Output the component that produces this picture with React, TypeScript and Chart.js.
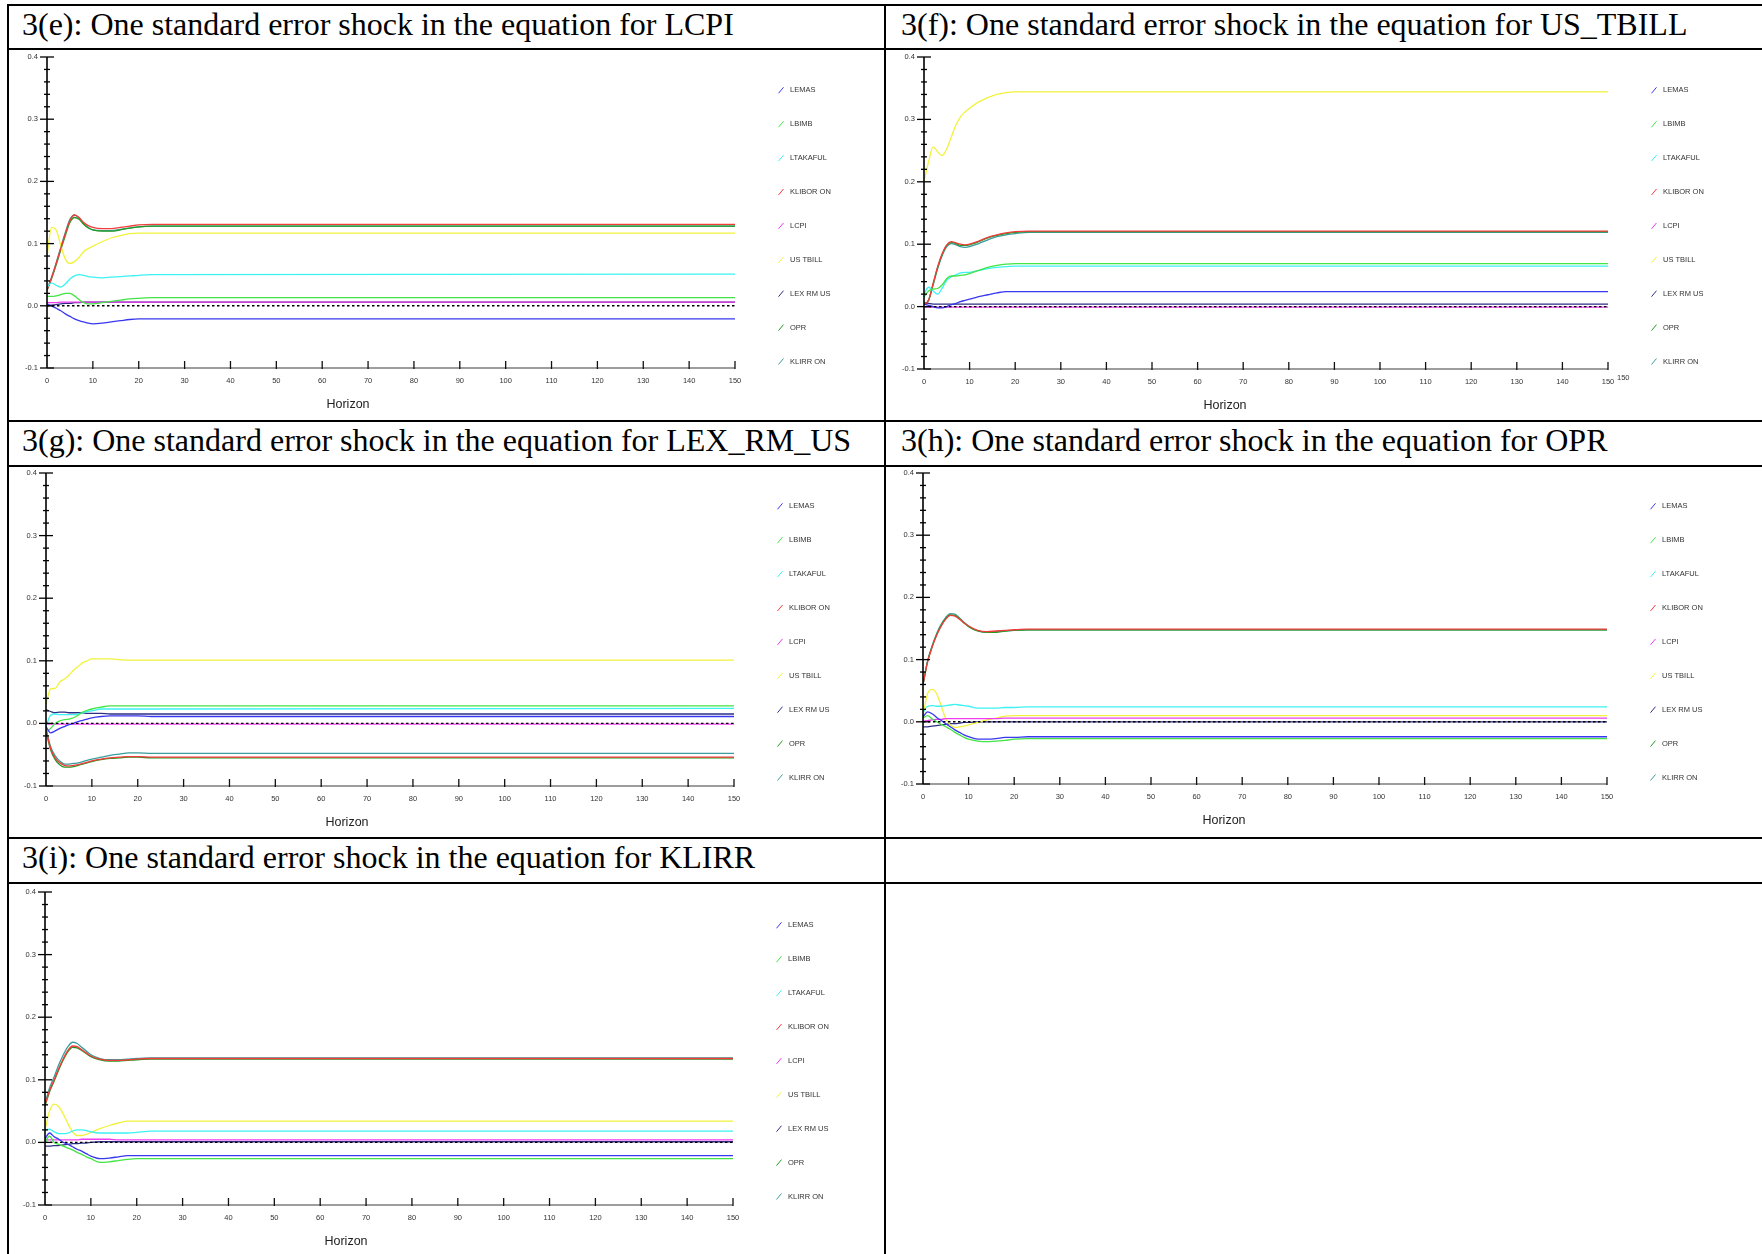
import React, { useEffect, useRef } from 'react';
import { Chart, registerables } from 'chart.js';

Chart.register(...registerables);

// ---------- shared axes / categories ----------
const horizons = [0, 1, 2, 3, 4, 5, 6, 7, 8, 9, 10, 12, 14, 16, 18, 20, 23, 150];
const seriesNames = ['LEMAS', 'LBIMB', 'LTAKAFUL', 'KLIBOR ON', 'LCPI', 'US TBILL', 'LEX RM US', 'OPR', 'KLIRR ON'];
const xTickValues = [0, 10, 20, 30, 40, 50, 60, 70, 80, 90, 100, 110, 120, 130, 140, 150];
const xTickLabels = ['0', '10', '20', '30', '40', '50', '60', '70', '80', '90', '100', '110', '120', '130', '140', '150'];
const yTickValues = [-0.1, 0.0, 0.1, 0.2, 0.3, 0.4];
const yTickLabels = ['-0.1', '0.0', '0.1', '0.2', '0.3', '0.4'];

// ---------- 3(e): shock in LCPI ----------
const eLEMAS = [0.003, 0.0, -0.004, -0.008, -0.013, -0.017, -0.021, -0.024, -0.026, -0.028, -0.029, -0.028, -0.026, -0.024, -0.022, -0.021, -0.021, -0.021];
const eLBIMB = [0.015, 0.015, 0.016, 0.018, 0.02, 0.02, 0.016, 0.01, 0.005, 0.003, 0.003, 0.005, 0.007, 0.009, 0.011, 0.012, 0.013, 0.013];
const eLTAKAFUL = [0.03, 0.037, 0.033, 0.03, 0.035, 0.043, 0.048, 0.05, 0.049, 0.047, 0.046, 0.045, 0.046, 0.047, 0.048, 0.049, 0.05, 0.051];
const eKLIBOR = [0.025, 0.045, 0.068, 0.092, 0.116, 0.137, 0.146, 0.142, 0.134, 0.129, 0.126, 0.124, 0.124, 0.126, 0.128, 0.13, 0.131, 0.131];
const eLCPI = [0.005, 0.005, 0.005, 0.006, 0.006, 0.006, 0.006, 0.006, 0.006, 0.006, 0.006, 0.006, 0.006, 0.006, 0.006, 0.006, 0.006, 0.006];
const eUSTBILL = [0.08, 0.126, 0.122, 0.097, 0.075, 0.068, 0.071, 0.078, 0.087, 0.092, 0.096, 0.103, 0.109, 0.113, 0.116, 0.117, 0.117, 0.117];
const eLEXRMUS = [0.0, 0.001, 0.002, 0.003, 0.004, 0.004, 0.005, 0.005, 0.006, 0.006, 0.006, 0.006, 0.006, 0.006, 0.006, 0.006, 0.006, 0.006];
const eOPR = [0.025, 0.044, 0.066, 0.09, 0.113, 0.134, 0.142, 0.139, 0.131, 0.125, 0.122, 0.12, 0.12, 0.122, 0.125, 0.127, 0.128, 0.128];
const eKLIRR = [0.025, 0.046, 0.069, 0.094, 0.118, 0.139, 0.146, 0.141, 0.132, 0.126, 0.122, 0.121, 0.121, 0.123, 0.125, 0.127, 0.128, 0.128];

// ---------- 3(f): shock in US_TBILL ----------
const fLEMAS = [0.004, 0.002, 0.0, -0.002, -0.002, 0.0, 0.003, 0.005, 0.008, 0.01, 0.012, 0.016, 0.019, 0.022, 0.024, 0.024, 0.024, 0.024];
const fLBIMB = [0.015, 0.025, 0.028, 0.029, 0.035, 0.045, 0.049, 0.049, 0.05, 0.051, 0.053, 0.058, 0.063, 0.066, 0.068, 0.069, 0.069, 0.069];
const fLTAKAFUL = [0.02, 0.031, 0.025, 0.02, 0.03, 0.042, 0.048, 0.051, 0.054, 0.055, 0.055, 0.058, 0.061, 0.063, 0.064, 0.065, 0.065, 0.065];
const fKLIBOR = [0.003, 0.01, 0.037, 0.064, 0.085, 0.099, 0.104, 0.102, 0.1, 0.099, 0.1, 0.105, 0.111, 0.115, 0.118, 0.12, 0.121, 0.121];
const fLCPI = [0.0, -0.001, -0.001, -0.001, -0.001, -0.001, -0.001, -0.001, -0.001, -0.001, -0.001, -0.001, -0.001, -0.001, -0.001, -0.001, -0.001, -0.001];
const fUSTBILL = [0.201, 0.232, 0.256, 0.248, 0.242, 0.253, 0.272, 0.291, 0.304, 0.312, 0.318, 0.328, 0.335, 0.34, 0.343, 0.344, 0.344, 0.344];
const fLEXRMUS = [0.006, 0.005, 0.004, 0.004, 0.004, 0.004, 0.004, 0.004, 0.004, 0.004, 0.004, 0.004, 0.004, 0.004, 0.004, 0.004, 0.004, 0.004];
const fOPR = [0.003, 0.01, 0.036, 0.063, 0.084, 0.098, 0.103, 0.101, 0.098, 0.098, 0.099, 0.104, 0.11, 0.114, 0.117, 0.119, 0.12, 0.12];
const fKLIRR = [0.003, 0.01, 0.035, 0.061, 0.082, 0.096, 0.101, 0.099, 0.096, 0.095, 0.096, 0.101, 0.107, 0.112, 0.115, 0.117, 0.119, 0.119];

// ---------- 3(g): shock in LEX_RM_US ----------
const gLEMAS = [-0.005, -0.015, -0.012, -0.008, -0.005, -0.002, 0.0, 0.003, 0.005, 0.007, 0.009, 0.011, 0.012, 0.012, 0.012, 0.012, 0.011, 0.011];
const gLBIMB = [-0.015, -0.008, 0.0, 0.004, 0.006, 0.007, 0.009, 0.013, 0.018, 0.021, 0.023, 0.026, 0.028, 0.028, 0.028, 0.028, 0.028, 0.028];
const gLTAKAFUL = [-0.005, 0.013, 0.015, 0.014, 0.014, 0.014, 0.014, 0.015, 0.017, 0.019, 0.02, 0.023, 0.023, 0.023, 0.023, 0.023, 0.023, 0.024];
const gKLIBOR = [-0.01, -0.04, -0.055, -0.063, -0.067, -0.068, -0.067, -0.066, -0.064, -0.062, -0.06, -0.057, -0.055, -0.054, -0.053, -0.053, -0.054, -0.054];
const gLCPI = [-0.001, -0.001, -0.001, -0.001, -0.001, -0.001, -0.001, -0.001, -0.001, -0.001, -0.001, -0.001, -0.001, -0.001, -0.001, -0.001, -0.001, -0.001];
const gUSTBILL = [0.031, 0.055, 0.056, 0.066, 0.071, 0.077, 0.085, 0.091, 0.097, 0.1, 0.103, 0.103, 0.103, 0.102, 0.101, 0.101, 0.101, 0.101];
const gLEXRMUS = [0.022, 0.019, 0.017, 0.018, 0.018, 0.017, 0.017, 0.017, 0.017, 0.016, 0.016, 0.016, 0.015, 0.015, 0.015, 0.015, 0.015, 0.015];
const gOPR = [-0.012, -0.042, -0.058, -0.066, -0.07, -0.07, -0.069, -0.067, -0.065, -0.063, -0.061, -0.058, -0.056, -0.055, -0.054, -0.054, -0.055, -0.055];
const gKLIRR = [-0.008, -0.037, -0.052, -0.06, -0.065, -0.065, -0.064, -0.063, -0.061, -0.059, -0.057, -0.054, -0.051, -0.049, -0.047, -0.047, -0.048, -0.048];

// ---------- 3(h): shock in OPR ----------
const hLEMAS = [0.008, 0.016, 0.013, 0.007, 0.002, -0.003, -0.008, -0.013, -0.017, -0.021, -0.024, -0.028, -0.028, -0.027, -0.025, -0.025, -0.024, -0.024];
const hLBIMB = [0.006, 0.01, 0.005, 0.0, -0.004, -0.008, -0.012, -0.017, -0.021, -0.025, -0.028, -0.031, -0.032, -0.031, -0.03, -0.028, -0.027, -0.027];
const hLTAKAFUL = [0.015, 0.025, 0.026, 0.025, 0.025, 0.026, 0.027, 0.028, 0.027, 0.026, 0.025, 0.022, 0.022, 0.022, 0.023, 0.023, 0.024, 0.024];
const hKLIBOR = [0.06, 0.096, 0.12, 0.139, 0.154, 0.165, 0.171, 0.17, 0.165, 0.159, 0.154, 0.147, 0.145, 0.146, 0.147, 0.148, 0.149, 0.149];
const hLCPI = [0.001, 0.002, 0.003, 0.004, 0.004, 0.005, 0.005, 0.005, 0.005, 0.005, 0.005, 0.005, 0.005, 0.005, 0.006, 0.006, 0.006, 0.006];
const hUSTBILL = [0.01, 0.045, 0.052, 0.045, 0.025, 0.005, -0.005, -0.009, -0.008, -0.007, -0.005, -0.001, 0.003, 0.006, 0.009, 0.01, 0.01, 0.01];
const hLEXRMUS = [-0.008, -0.008, -0.007, -0.006, -0.005, -0.004, -0.003, -0.003, -0.002, -0.001, -0.001, 0.0, 0.0, 0.0, 0.0, 0.0, 0.0, 0.0];
const hOPR = [0.06, 0.097, 0.121, 0.14, 0.155, 0.166, 0.172, 0.171, 0.166, 0.159, 0.153, 0.146, 0.144, 0.144, 0.146, 0.147, 0.148, 0.148];
const hKLIRR = [0.06, 0.098, 0.122, 0.142, 0.157, 0.168, 0.174, 0.173, 0.167, 0.16, 0.154, 0.146, 0.144, 0.145, 0.146, 0.147, 0.148, 0.148];

// ---------- 3(i): shock in KLIRR ----------
const iLEMAS = [0.006, 0.015, 0.009, 0.005, 0.0, -0.003, -0.007, -0.011, -0.014, -0.018, -0.022, -0.026, -0.025, -0.023, -0.021, -0.021, -0.021, -0.021];
const iLBIMB = [0.0, 0.01, 0.0, -0.003, -0.006, -0.009, -0.012, -0.016, -0.019, -0.023, -0.026, -0.032, -0.031, -0.029, -0.027, -0.026, -0.026, -0.026];
const iLTAKAFUL = [0.02, 0.021, 0.017, 0.014, 0.014, 0.015, 0.018, 0.02, 0.02, 0.019, 0.017, 0.015, 0.015, 0.015, 0.015, 0.016, 0.018, 0.018];
const iKLIBOR = [0.06, 0.083, 0.1, 0.118, 0.134, 0.147, 0.154, 0.153, 0.148, 0.143, 0.138, 0.133, 0.131, 0.131, 0.132, 0.133, 0.134, 0.134];
const iLCPI = [0.004, 0.004, 0.004, 0.004, 0.004, 0.004, 0.004, 0.004, 0.005, 0.005, 0.005, 0.005, 0.005, 0.004, 0.004, 0.004, 0.004, 0.004];
const iUSTBILL = [0.02, 0.05, 0.061, 0.057, 0.045, 0.03, 0.017, 0.011, 0.011, 0.013, 0.016, 0.022, 0.027, 0.031, 0.034, 0.034, 0.034, 0.034];
const iLEXRMUS = [-0.006, -0.006, -0.005, -0.005, -0.004, -0.003, -0.002, -0.002, -0.001, -0.001, 0.0, 0.001, 0.001, 0.001, 0.001, 0.001, 0.001, 0.001];
const iOPR = [0.058, 0.081, 0.098, 0.116, 0.132, 0.145, 0.152, 0.151, 0.147, 0.142, 0.137, 0.132, 0.13, 0.13, 0.131, 0.132, 0.133, 0.133];
const iKLIRR = [0.062, 0.087, 0.105, 0.124, 0.14, 0.153, 0.16, 0.158, 0.152, 0.146, 0.14, 0.134, 0.132, 0.132, 0.133, 0.134, 0.135, 0.135];

// ---------- styles ----------
const seriesColors = ['#3838f0', '#44e444', '#3cf2f2', '#f23c3c', '#ee3cee', '#f2f23c', '#2e2e86', '#229a22', '#3a9c9c'];

type PanelDef = {
  key: string;
  title: string;
  series: number[][];
  plotLeft: number;
  plotTop: number;
  plotW: number;
  plotH: number;
  extraLabel?: boolean;
};

const panels: PanelDef[] = [
  { key: 'e', title: '3(e): One standard error shock in the equation for LCPI',
    series: [eLEMAS, eLBIMB, eLTAKAFUL, eKLIBOR, eLCPI, eUSTBILL, eLEXRMUS, eOPR, eKLIRR],
    plotLeft: 47, plotTop: 57, plotW: 688, plotH: 311 },
  { key: 'f', title: '3(f): One standard error shock in the equation for US_TBILL',
    series: [fLEMAS, fLBIMB, fLTAKAFUL, fKLIBOR, fLCPI, fUSTBILL, fLEXRMUS, fOPR, fKLIRR],
    plotLeft: 924, plotTop: 57, plotW: 684, plotH: 312, extraLabel: true },
  { key: 'g', title: '3(g): One standard error shock in the equation for LEX_RM_US',
    series: [gLEMAS, gLBIMB, gLTAKAFUL, gKLIBOR, gLCPI, gUSTBILL, gLEXRMUS, gOPR, gKLIRR],
    plotLeft: 46, plotTop: 473, plotW: 688, plotH: 313 },
  { key: 'h', title: '3(h): One standard error shock in the equation for OPR',
    series: [hLEMAS, hLBIMB, hLTAKAFUL, hKLIBOR, hLCPI, hUSTBILL, hLEXRMUS, hOPR, hKLIRR],
    plotLeft: 923, plotTop: 473, plotW: 684, plotH: 311 },
  { key: 'i', title: '3(i): One standard error shock in the equation for KLIRR',
    series: [iLEMAS, iLBIMB, iLTAKAFUL, iKLIBOR, iLCPI, iUSTBILL, iLEXRMUS, iOPR, iKLIRR],
    plotLeft: 45, plotTop: 892, plotW: 688, plotH: 313 },
];

const AXIS_W = 40;
const TOP_PAD = 16;
const RIGHT_SPACE = 150;
const BOTTOM_SPACE = 52;
const X_AXIS_H = 20;

function makeOverlay(p: PanelDef) {
  return {
    id: 'overlay_' + p.key,
    afterDatasetsDraw(chart: any) {
      const { ctx, chartArea, scales } = chart;
      const xs = scales.x;
      const ys = scales.y;
      const { left, right, top, bottom } = chartArea;
      const line = (x1: number, y1: number, x2: number, y2: number) => {
        ctx.beginPath();
        ctx.moveTo(x1, y1);
        ctx.lineTo(x2, y2);
        ctx.stroke();
      };
      ctx.save();
      // dotted zero line
      const y0 = ys.getPixelForValue(0);
      ctx.strokeStyle = '#000';
      ctx.lineWidth = 1.4;
      ctx.setLineDash([2.5, 2.5]);
      line(xs.getPixelForValue(0), y0, xs.getPixelForValue(150), y0);
      ctx.setLineDash([]);
      // x axis
      ctx.strokeStyle = '#7c7c7c';
      ctx.lineWidth = 1.6;
      line(left, bottom, right, bottom);
      ctx.strokeStyle = '#111';
      ctx.lineWidth = 1.3;
      xTickValues.forEach((v) => {
        if (v === 0) return;
        const px = xs.getPixelForValue(v);
        line(px, bottom - 7, px, bottom + 1);
      });
      // y axis
      ctx.strokeStyle = '#000';
      ctx.lineWidth = 1.6;
      line(left, top, left, bottom);
      ctx.lineWidth = 1.3;
      yTickValues.forEach((v) => {
        const py = ys.getPixelForValue(v);
        line(left - 7, py, left + 7, py);
      });
      for (let k = 0; k <= 25; k++) {
        if (k % 5 === 0) continue;
        const py = ys.getPixelForValue(-0.1 + k * 0.02);
        line(left - 3, py, left + 3, py);
      }
      // legend
      ctx.font = '7.5px "Liberation Sans", Arial, sans-serif';
      ctx.textBaseline = 'middle';
      ctx.textAlign = 'left';
      chart.data.datasets.forEach((ds: any, i: number) => {
        const ly = top + 33.3 + i * 33.9;
        const lx = right + 46;
        ctx.strokeStyle = ds.borderColor;
        ctx.lineWidth = 1;
        line(lx - 2.5, ly + 3, lx + 2.5, ly - 3);
        ctx.fillStyle = '#333';
        ctx.fillText(ds.label, right + 55, ly);
      });
      // extra stray "150" in panel (f)
      if (p.extraLabel) {
        ctx.font = '7.5px "Liberation Sans", Arial, sans-serif';
        ctx.fillStyle = '#333';
        ctx.fillText('150', right + 9, bottom + 9);
      }
      // axis title
      ctx.font = '12.5px "Liberation Sans", Arial, sans-serif';
      ctx.fillStyle = '#222';
      ctx.textAlign = 'center';
      ctx.fillText('Horizon', left + 301, bottom + 36.5);
      ctx.restore();
    },
  };
}

function PanelChart({ p }: { p: PanelDef }) {
  const ref = useRef<HTMLCanvasElement | null>(null);
  const W = AXIS_W + p.plotW + RIGHT_SPACE;
  const H = TOP_PAD + p.plotH + BOTTOM_SPACE;
  useEffect(() => {
    if (!ref.current) return;
    const datasets = seriesNames.map((name, si) => ({
      label: name,
      data: horizons.map((h, i) => ({ x: h, y: p.series[si][i] })),
      borderColor: seriesColors[si],
      backgroundColor: seriesColors[si],
      borderWidth: 1.3,
      pointRadius: 0,
      fill: false,
      cubicInterpolationMode: 'monotone' as const,
    }));
    const tickFont = { family: '"Liberation Sans", Arial, sans-serif', size: 7.5 };
    const chart = new Chart(ref.current, {
      type: 'line',
      data: { datasets },
      options: {
        animation: false,
        responsive: false,
        devicePixelRatio: 1,
        layout: { autoPadding: false, padding: { left: 0, top: TOP_PAD, right: RIGHT_SPACE, bottom: BOTTOM_SPACE - X_AXIS_H } },
        plugins: { legend: { display: false }, tooltip: { enabled: false }, title: { display: false } },
        scales: {
          x: {
            type: 'linear',
            min: 0,
            max: 150,
            grid: { display: false, drawTicks: false },
            border: { display: false },
            afterBuildTicks: (s: any) => { s.ticks = xTickValues.map((v) => ({ value: v })); },
            afterFit: (s: any) => { s.height = X_AXIS_H; },
            ticks: {
              autoSkip: false,
              maxRotation: 0,
              padding: 8,
              color: '#333',
              font: tickFont,
              callback: (_v: any, idx: number) => xTickLabels[idx],
            },
          },
          y: {
            type: 'linear',
            min: -0.1,
            max: 0.4,
            grid: { display: false, drawTicks: false },
            border: { display: false },
            afterBuildTicks: (s: any) => { s.ticks = yTickValues.map((v) => ({ value: v })); },
            afterFit: (s: any) => { s.width = AXIS_W; },
            ticks: {
              autoSkip: false,
              padding: 9,
              color: '#333',
              font: tickFont,
              callback: (_v: any, idx: number) => yTickLabels[idx],
            },
          },
        },
      },
      plugins: [makeOverlay(p)],
    } as any);
    return () => chart.destroy();
  }, [p]);
  return (
    <canvas
      ref={ref}
      width={W}
      height={H}
      style={{ position: 'absolute', left: p.plotLeft - AXIS_W, top: p.plotTop - TOP_PAD, width: W, height: H }}
    />
  );
}

const hLines = [4, 47.5, 420, 464.5, 837, 881.5];
const vLines = [6.5, 884];
const titlePos = [
  { left: 22, top: 8 },
  { left: 901, top: 8 },
  { left: 22, top: 424 },
  { left: 901, top: 424 },
  { left: 22, top: 841 },
];

export default function App() {
  return (
    <div style={{ position: 'fixed', left: 0, top: 0, width: 1762, height: 1254, overflow: 'hidden', background: '#fff' }}>
      {hLines.map((y, i) => (
        <div key={'h' + i} style={{ position: 'absolute', left: 6.5, top: y, width: 1762, height: 2, background: '#000' }} />
      ))}
      {vLines.map((x, i) => (
        <div key={'v' + i} style={{ position: 'absolute', left: x, top: 4, width: 2, height: 1254, background: '#000' }} />
      ))}
      {panels.map((p, i) => (
        <div
          key={'t' + p.key}
          style={{
            position: 'absolute',
            left: titlePos[i].left,
            top: titlePos[i].top,
            fontFamily: '"Liberation Serif", "Times New Roman", serif',
            fontSize: 32,
            lineHeight: '32px',
            whiteSpace: 'nowrap',
            color: '#000',
          }}
        >
          {p.title}
        </div>
      ))}
      {panels.map((p) => (
        <PanelChart key={p.key} p={p} />
      ))}
    </div>
  );
}
